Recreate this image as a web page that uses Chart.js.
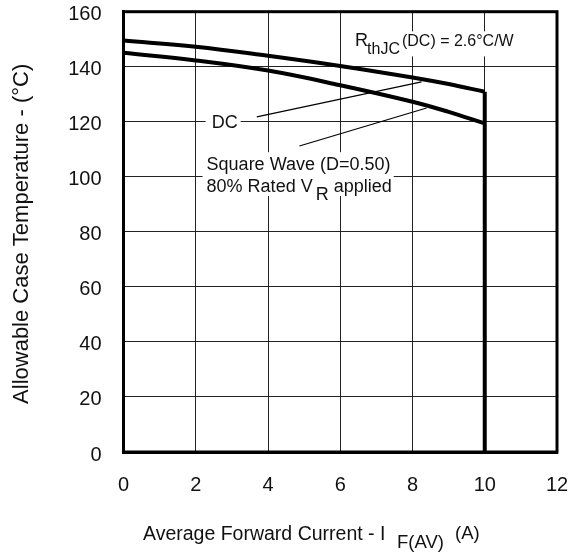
<!DOCTYPE html>
<html><head><meta charset="utf-8">
<script src="https://cdn.jsdelivr.net/npm/chart.js@4/dist/chart.umd.min.js"></script>
<style>html,body{margin:0;padding:0;background:#fff}#wrap{width:568px;height:554px}</style>
</head><body><div id="wrap"><canvas id="c" width="568" height="554"></canvas></div>
<script>
// ---- data ----
const dcCurrent = [0, 2, 4, 6, 8, 9, 10];
const dcTemp = [149.5, 147.3, 144.0, 140.3, 136.1, 133.7, 130.9];
const sqCurrent = [0, 2, 4, 6, 8, 9, 10];
const sqTemp = [145.1, 142.3, 138.6, 133.3, 127.3, 123.6, 119.4];
const limitCurrent = [10, 10];
const limitTemp = [130.9, 0];
const dcLeaderCurrent = [3.69, 8.25];
const dcLeaderTemp = [121.8, 134.5];
const sqLeaderCurrent = [4.87, 8.39];
const sqLeaderTemp = [111.2, 125.0];
const xTickValues = [0, 2, 4, 6, 8, 10, 12];
const yTickValues = [0, 20, 40, 60, 80, 100, 120, 140, 160];

const FAM = '"Liberation Sans", Arial, Helvetica, sans-serif';
const F = s => `${s}px ${FAM}`;
const pts = (xs, ys) => xs.map((v, i) => ({x: v, y: ys[i]}));

const annot = {
  id: 'annot',
  afterDatasetsDraw(chart) {
    const {ctx, chartArea: a, scales: {x, y}} = chart;
    const px = v => x.getPixelForValue(v), py = v => y.getPixelForValue(v);
    ctx.save();
    ctx.textBaseline = 'alphabetic';
    ctx.textAlign = 'left';
    // --- DC label
    {
      const x0 = px(2.44), b = py(117.6);
      ctx.font = F(18);
      const w = ctx.measureText('DC').width;
      ctx.fillStyle = '#fff';
      ctx.fillRect(x0 - 6, b - 16, w + 9, 20);
      ctx.fillStyle = '#111';
      ctx.fillText('DC', x0, b);
    }
    // --- Square wave label
    {
      const x0 = px(2.30), b1 = py(102.4), b2 = py(94.5);
      ctx.font = F(18);
      const w1 = ctx.measureText('Square Wave (D=0.50)').width;
      const wA = ctx.measureText('80% Rated V').width;
      const wR = ctx.measureText('R').width;
      const wB = ctx.measureText(' applied').width;
      const w2 = wA + 3 + wR + wB;
      const W = Math.max(w1, w2);
      ctx.fillStyle = '#fff';
      ctx.fillRect(x0 - 4, b1 - 18, W + 6, (b2 + 4) - (b1 - 18));
      ctx.fillStyle = '#111';
      ctx.fillText('Square Wave (D=0.50)', x0, b1);
      ctx.fillText('80% Rated V', x0, b2);
      ctx.fillText('R', x0 + wA + 3, b2 + 8);
      ctx.fillText(' applied', x0 + wA + 3 + wR, b2);
    }
    // --- R_thJC label
    {
      const x0 = px(6.41), b = py(147.4);
      ctx.font = F(18);
      const wR = ctx.measureText('R').width;
      ctx.font = F(16);
      const wS = ctx.measureText('thJC').width;
      const wT = ctx.measureText('(DC) = 2.6°C/W').width;
      const W = wR + wS + 1 + wT;
      ctx.fillStyle = '#fff';
      ctx.fillRect(x0 - 3, b - 15, W + 6, 25);
      ctx.fillStyle = '#111';
      ctx.font = F(18);
      ctx.fillText('R', x0, b);
      ctx.font = F(16);
      ctx.fillText('thJC', x0 + wR - 1, b + 8);
      ctx.fillText('(DC) = 2.6°C/W', x0 + wR + wS + 1, b);
    }
    // --- frame
    ctx.strokeStyle = '#000';
    ctx.lineWidth = 3;
    ctx.strokeRect(a.left, a.top, a.right - a.left, a.bottom - a.top);
    ctx.restore();
  },
  afterDraw(chart) {
    const {ctx, chartArea: a} = chart;
    ctx.save();
    ctx.fillStyle = '#111';
    ctx.textBaseline = 'alphabetic';
    // x title
    ctx.textAlign = 'left';
    ctx.font = F(19.5);
    ctx.fillText('Average Forward Current - I', 143, 540);
    ctx.font = F(18.5);
    ctx.fillText('F(AV)', 397, 548);
    ctx.fillText('(A)', 455, 539);
    // y title
    ctx.translate(28, (a.top + a.bottom) / 2 + 2);
    ctx.rotate(-Math.PI / 2);
    ctx.textAlign = 'center';
    ctx.font = F(22);
    ctx.fillText('Allowable Case Temperature - (°C)', 0, 0);
    ctx.restore();
  }
};

const lineDs = (data, w) => ({
  data, showLine: true, borderColor: '#000', backgroundColor: '#000',
  borderWidth: w, pointRadius: 0, fill: false, tension: 0
});

const dc = lineDs(pts(dcCurrent, dcTemp), 4); dc.tension = 0.4; dc.label = 'DC';
const sq = lineDs(pts(sqCurrent, sqTemp), 4); sq.tension = 0.4; sq.label = 'Square Wave';
const lim = lineDs(pts(limitCurrent, limitTemp), 4); lim.label = 'limit';
const l1 = lineDs(pts(dcLeaderCurrent, dcLeaderTemp), 1.2);
const l2 = lineDs(pts(sqLeaderCurrent, sqLeaderTemp), 1.2);

const noPad = s => { s.paddingTop = 0; s.paddingBottom = 0; s.paddingLeft = 0; s.paddingRight = 0; };

new Chart(document.getElementById('c'), {
  type: 'scatter',
  data: {datasets: [dc, sq, lim, l1, l2]},
  options: {
    responsive: false,
    animation: false,
    devicePixelRatio: 1,
    layout: {padding: {top: 11.7, right: 11, left: 0, bottom: 0}},
    plugins: {legend: {display: false}, tooltip: {enabled: false}},
    scales: {
      x: {
        type: 'linear', min: 0, max: 12,
        afterBuildTicks: s => { s.ticks = xTickValues.map(v => ({value: v})); },
        afterFit: s => { s.height = 102; noPad(s); },
        ticks: {font: {family: FAM, size: 20}, color: '#111', padding: 21, maxRotation: 0},
        grid: {color: '#222', lineWidth: 1, drawTicks: false},
        border: {display: true, color: '#000', width: 3}
      },
      y: {
        type: 'linear', min: 0, max: 160,
        afterBuildTicks: s => { s.ticks = yTickValues.map(v => ({value: v})); },
        afterFit: s => { s.width = 123.5; noPad(s); },
        ticks: {font: {family: FAM, size: 20}, color: '#111', padding: 22, labelOffset: 3},
        grid: {color: '#222', lineWidth: 1, drawTicks: false},
        border: {display: true, color: '#000', width: 3}
      }
    }
  },
  plugins: [annot]
});
</script>
</body></html>
